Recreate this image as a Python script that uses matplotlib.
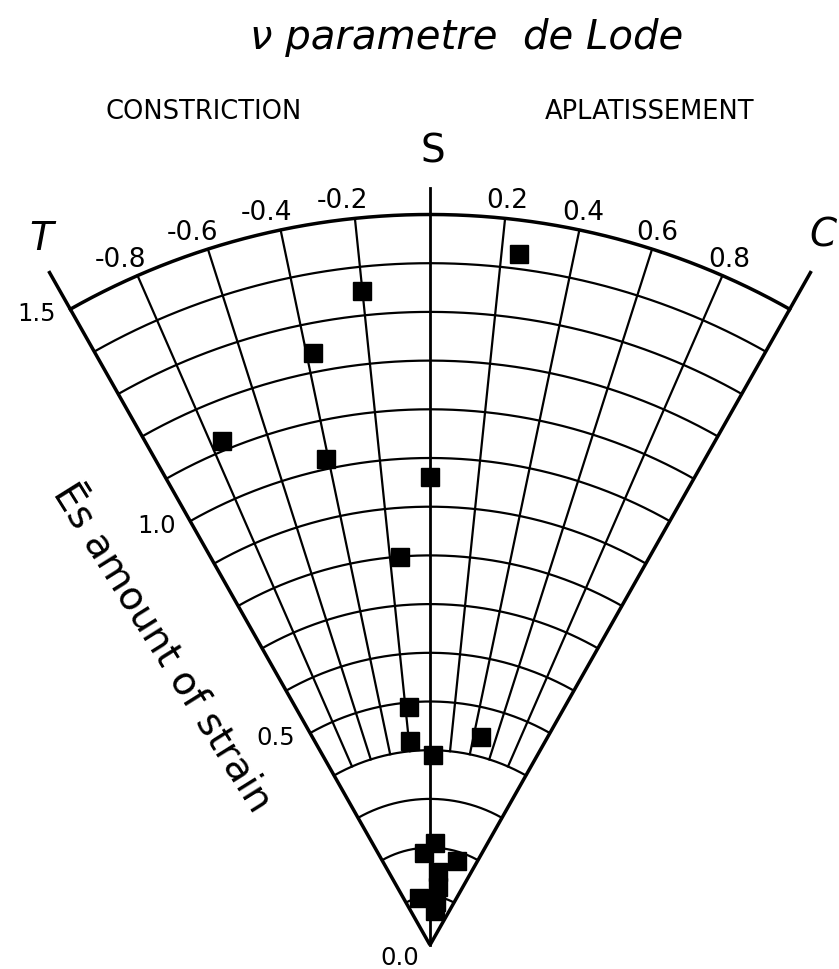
import numpy as np
import matplotlib
matplotlib.use('Agg')
import matplotlib.pyplot as plt

# Lode parameter (nu) and amount of strain (Es) per sample
nu = [0.25, -0.20, -0.38, -0.76, -0.41, 0.00, -0.15, -0.17, -0.19, 0.03,
      0.47, 0.10, -0.13, 0.60, 0.22, 0.25, -0.45, 0.25, 0.31]
es = [1.43, 1.35, 1.24, 1.12, 1.02, 0.96, 0.80, 0.49, 0.42, 0.39,
      0.44, 0.21, 0.19, 0.18, 0.15, 0.12, 0.10, 0.09, 0.07]

nu_ticks = [-0.8, -0.6, -0.4, -0.2, 0.2, 0.4, 0.6, 0.8]
nu_labels = ['-0.8', '-0.6', '-0.4', '-0.2', '0.2', '0.4', '0.6', '0.8']
es_rings = [0.1, 0.2, 0.3, 0.4, 0.5, 0.6, 0.7, 0.8, 0.9, 1.0, 1.1, 1.2, 1.3, 1.4, 1.5]
es_ticks = [0.0, 0.5, 1.0, 1.5]
es_labels = ['0.0', '0.5', '1.0', '1.5']

DEG_PER_NU = 29.5        # nu = +-1 lies on the wedge edges
SCALE = 487.0            # pixels per unit of Es
OX, OY = 430.0, 945.0    # apex of the wedge in pixels


def to_xy(n, r):
    th = np.radians(np.asarray(n, dtype=float) * DEG_PER_NU)
    r = np.asarray(r, dtype=float)
    return r * np.sin(th), r * np.cos(th)


def px(x, y):
    return (x - OX) / SCALE, (OY - y) / SCALE


fig = plt.figure(figsize=(8.39, 9.69), dpi=100)
ax = fig.add_axes([0, 0, 1, 1])
ax.set_xlim(-OX / SCALE, (839 - OX) / SCALE)
ax.set_ylim(-(969 - OY) / SCALE, OY / SCALE)
ax.axis('off')

# rings of constant Es
arc_nu = np.linspace(-1, 1, 300)
for r in es_rings:
    x, y = to_xy(arc_nu, np.full_like(arc_nu, r))
    lw = 2.5 if r > 1.45 else 1.6
    ax.plot(x, y, color='black', lw=lw)

# radial lines of constant nu
for n in nu_ticks:
    x, y = to_xy([n, n], [0.4, 1.5])
    ax.plot(x, y, color='black', lw=1.6)
x, y = to_xy([0, 0], [0, 1.555])
ax.plot(x, y, color='black', lw=2.0)
for n in (-1, 1):
    x, y = to_xy([n, n], [0, 1.59])
    ax.plot(x, y, color='black', lw=2.5, solid_capstyle='butt')

# samples
x, y = to_xy(nu, es)
ax.plot(x, y, 's', color='black', ms=12.5, zorder=5)

# nu labels along the outer arc
for n, lab in zip(nu_ticks, nu_labels):
    x, y = to_xy(n, 1.535)
    shift = -0.022 if n < 0 else 0.0
    ax.text(x + shift, y, lab, ha='center', va='center', fontsize=19)

# Es labels along the T edge
for v, lab in zip(es_ticks, es_labels):
    ex, ey = to_xy(-1, v)
    if v == 0:
        ax.text(*px(400, 946), lab, ha='center', va='top', fontsize=17.5)
    else:
        ax.text(ex - 0.03, ey - 0.01, lab, ha='right', va='center', fontsize=17.5)

ax.text(*px(467, 49), 'ν parametre  de Lode', ha='center', va='baseline',
        fontsize=29, style='italic')
ax.text(*px(204, 112), 'CONSTRICTION', ha='center', va='center', fontsize=18.5)
ax.text(*px(650, 112), 'APLATISSEMENT', ha='center', va='center', fontsize=18.5)
ax.text(*px(433, 151), 'S', ha='center', va='center', fontsize=28)
ax.text(*px(41, 239), 'T', ha='center', va='center', fontsize=28, style='italic')
ax.text(*px(823, 235), 'C', ha='center', va='center', fontsize=28, style='italic')
ax.text(*px(162, 648), 'Ēs amount of strain', ha='center', va='center',
        fontsize=28, rotation=-58, rotation_mode='anchor')

fig.savefig('out.png', dpi=100, facecolor='white')
